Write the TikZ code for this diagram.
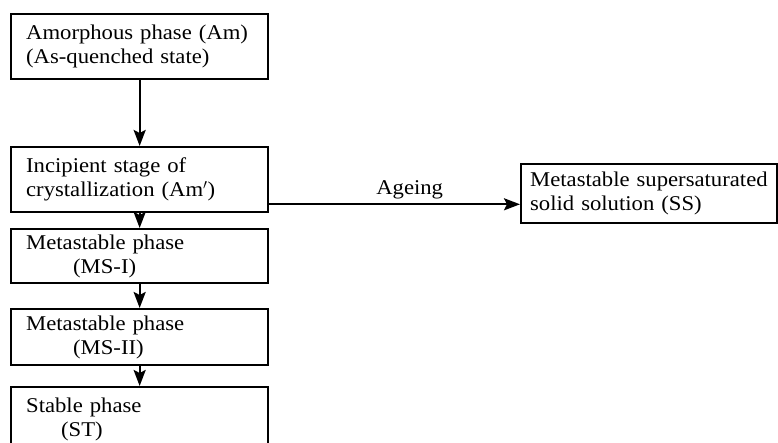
\documentclass[tikz,border=0pt]{standalone}
\usepackage{fontspec}
\setmainfont{Liberation Serif}[FakeStretch=1.08]
\usetikzlibrary{arrows.meta,positioning}

\begin{document}
\begin{tikzpicture}[x=1pt,y=-1pt,
	phase/.style={draw,line width=2.3pt,anchor=north west,minimum width=257pt,text width=227pt,align=left,inner xsep=15pt,inner ysep=0pt,font=\fontsize{21}{24}\selectfont},
	flow/.style={line width=2.3pt,-{Stealth[length=16pt,width=12pt,inset=3pt]}}]
	\clip (0,0) rectangle (778,443);
	\node[phase,minimum height=65pt] (Am) at (10,13) {Amorphous phase (Am)\\(As-quenched state)};
	\node[phase,minimum height=65pt] (Inc) at (10,146) {Incipient stage of\\crystallization (Am$'$)};
	\node[phase,minimum height=54pt] (MSI) at (10,228) {Metastable phase\\\hspace*{47pt}(MS-I)};
	\node[phase,minimum height=56pt] (MSII) at (10,308) {Metastable phase\\\hspace*{47pt}(MS-II)};
	\node[phase,minimum height=64pt] (ST) at (10,386) {Stable phase\\\hspace*{35pt}(ST)};
	\node[phase,minimum height=59pt,minimum width=256pt,text width=238pt,inner xsep=9pt] (SS) at (520,163) {Metastable supersaturated\\solid solution (SS)};

	\draw[flow] (Am) -- (Inc);
	\draw[flow] (Inc) -- (MSI);
	\draw[flow] (MSI) -- (MSII);
	\draw[flow] (MSII) -- (ST);
	% ageing branch
	\coordinate (age) at ([yshift=9pt]Inc.south east);
	\draw[flow] (age) -- node[pos=0.56,above=4pt,inner sep=0pt,font=\fontsize{21}{24}\selectfont]{Ageing} (age -| SS.west);
\end{tikzpicture}
\end{document}
